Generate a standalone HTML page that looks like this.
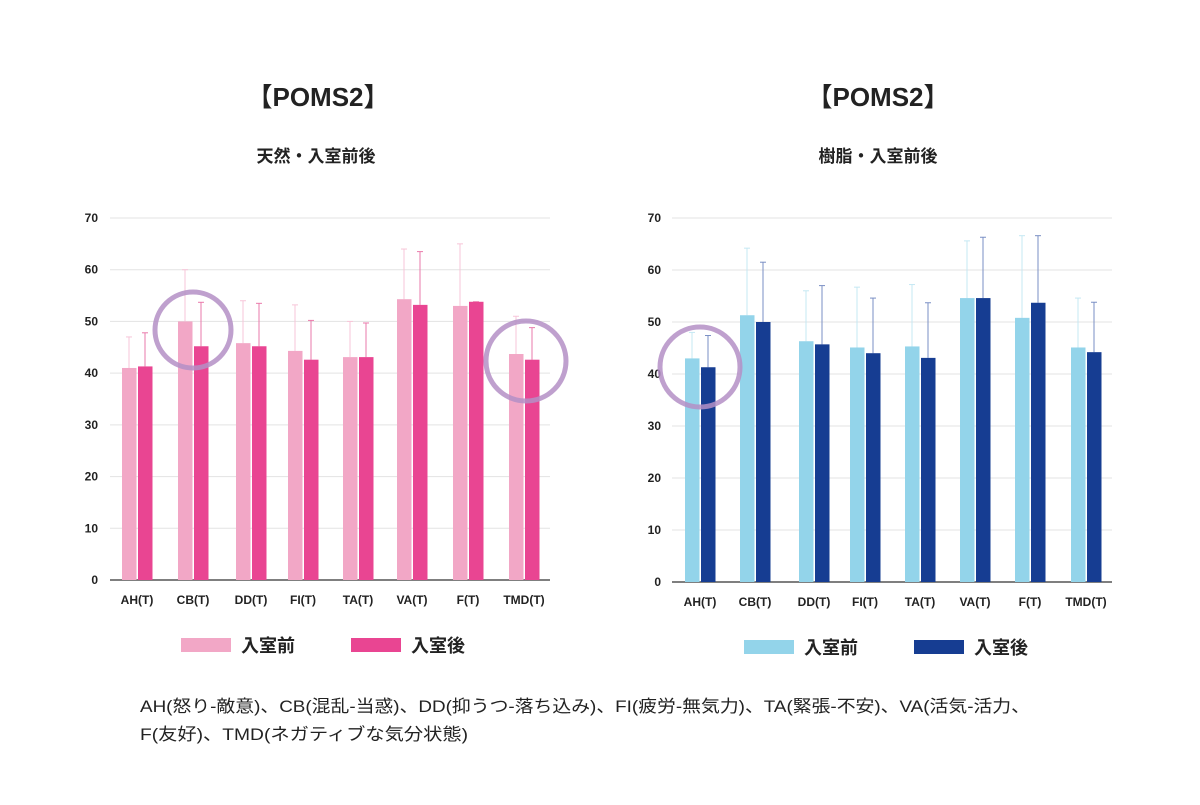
<!DOCTYPE html>
<html><head><meta charset="utf-8"><style>
body{margin:0;background:#fff}
svg text{font-family:"Liberation Sans","Noto Sans CJK JP",sans-serif}
</style></head><body>
<svg width="1200" height="800" viewBox="0 0 1200 800" xmlns="http://www.w3.org/2000/svg">
<rect width="1200" height="800" fill="#fff"/>
<g font-weight="bold" fill="#222" text-anchor="middle">
<text x="318" y="106" font-size="26">【POMS2】</text>
<text x="316" y="162" font-size="17">天然・入室前後</text>
<text x="878" y="106" font-size="26">【POMS2】</text>
<text x="878" y="162" font-size="17">樹脂・入室前後</text>
</g>
<g id="charts"></g>
<g font-size="18" font-weight="bold" fill="#222">
<rect x="181" y="638" width="50" height="14" fill="#f2a7c6"/><text x="241" y="652">入室前</text>
<rect x="351" y="638" width="50" height="14" fill="#e94592"/><text x="411" y="652">入室後</text>
<rect x="744" y="640" width="50" height="14" fill="#93d4ea"/><text x="804" y="654">入室前</text>
<rect x="914" y="640" width="50" height="14" fill="#163d92"/><text x="974" y="654">入室後</text>
</g>
<g font-size="17" fill="#222">
<text x="140" y="712" textLength="890" lengthAdjust="spacingAndGlyphs">AH(怒り-敵意)、CB(混乱-当惑)、DD(抑うつ-落ち込み)、FI(疲労-無気力)、TA(緊張-不安)、VA(活気-活力、</text>
<text x="140" y="740" textLength="328" lengthAdjust="spacingAndGlyphs">F(友好)、TMD(ネガティブな気分状態)</text>
</g>
</svg>
<script>
(function(){
var ns="http://www.w3.org/2000/svg",g=document.getElementById("charts");
function el(t,a,txt){var e=document.createElementNS(ns,t);for(var k in a)e.setAttribute(k,a[k]);if(txt!=null)e.textContent=txt;g.appendChild(e);return e;}
var labels=["AH(T)","CB(T)","DD(T)","FI(T)","TA(T)","VA(T)","F(T)","TMD(T)"];
function chart(c){
 var sc=(c.y0-c.y70)/70;
 for(var i=0;i<=7;i++){var y=c.y0-i*10*sc;
  el("line",{x1:c.gx1,x2:c.gx2,y1:y,y2:y,stroke:i==0?"#555":"#e3e3e3","stroke-width":i==0?1.5:1});
  el("text",{x:c.lx,y:y+4,"font-size":12,"font-weight":"bold",fill:"#222","text-anchor":"end"},String(i*10));}
 for(var j=0;j<8;j++){var cx=c.cx[j];
  [[cx-15,c.a[j],c.ea[j],c.c1,c.e1],[cx+1,c.b[j],c.eb[j],c.c2,c.e2]].forEach(function(s){
   var top=c.y0-s[1]*sc,et=c.y0-s[2]*sc,mx=s[0]+7;
   el("line",{x1:mx,x2:mx,y1:et,y2:top,stroke:s[4],"stroke-width":1});
   el("line",{x1:mx-3,x2:mx+3,y1:et,y2:et,stroke:s[4],"stroke-width":1});
   el("rect",{x:s[0],y:top,width:14.5,height:c.y0-top,fill:s[3]});});
  el("text",{x:cx,y:c.y0+24,"font-size":12,"font-weight":"bold",fill:"#222","text-anchor":"middle"},labels[j]);}
}
chart({y0:580,y70:218,gx1:110,gx2:550,lx:98,cx:[137,193,251,303,358,412,468,524],
 a:[41,50,45.8,44.3,43.1,54.3,53,43.7],b:[41.3,45.2,45.2,42.6,43.1,53.2,53.8,42.6],
 ea:[47,60,54,53.2,50,64,65,51],eb:[47.8,53.7,53.5,50.2,49.7,63.5,53.8,48.8],
 c1:"#f2a7c6",c2:"#e94592",e1:"#f7c5d8",e2:"#ea7aab"});
chart({y0:582,y70:218,gx1:672,gx2:1112,lx:661,cx:[700,755,814,865,920,975,1030,1086],
 a:[43,51.3,46.3,45.1,45.3,54.6,50.8,45.1],b:[41.3,50,45.7,44,43.1,54.6,53.7,44.2],
 ea:[48,64.2,56,56.7,57.2,65.6,66.6,54.6],eb:[47.4,61.5,57,54.6,53.7,66.3,66.6,53.8],
 c1:"#93d4ea",c2:"#163d92",e1:"#c5e8f3",e2:"#7a8fc4"});
[[193,330,38],[526,361,40],[700,367,40]].forEach(function(c){
 el("circle",{cx:c[0],cy:c[1],r:c[2],fill:"none",stroke:"#b48fc6","stroke-width":5,opacity:0.85});});
})();
</script>
</body></html>
